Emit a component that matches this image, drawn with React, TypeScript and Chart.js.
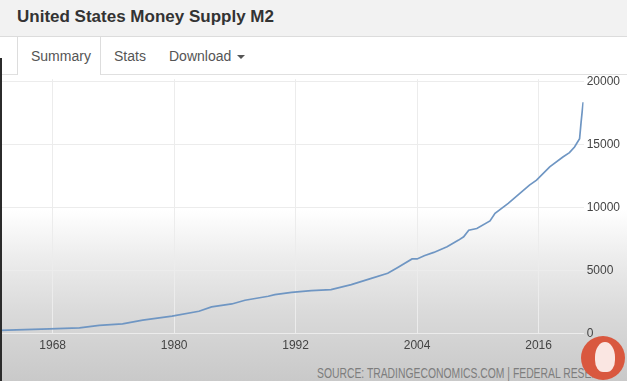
import React, { useEffect, useRef } from "react";
import { Chart, registerables } from "chart.js";

Chart.register(...registerables);

const TITLE = "United States Money Supply M2";
const TABS = ["Summary", "Stats", "Download"];
const SOURCE = "SOURCE: TRADINGECONOMICS.COM | FEDERAL RESERVE";

const years = [
  1962.8, 1967.7, 1970.65, 1972.6, 1974.9, 1976.9, 1979.8, 1982.45, 1983.7, 1985.7,
  1987.0, 1989.3, 1989.95, 1991.6, 1993.55, 1995.5, 1997.5, 1999.4, 2001.1, 2002.05,
  2003.5, 2004.0, 2004.7, 2005.65, 2006.96, 2008.1, 2008.6, 2009.1, 2009.9, 2011.2,
  2011.7, 2013.0, 2014.15, 2015.1, 2015.8, 2017.1, 2018.4, 2019.05, 2019.55, 2020.05,
  2020.2, 2020.4,
];
const m2 = [
  252, 379, 457, 646, 773, 1065, 1380, 1774, 2113, 2350,
  2642, 2957, 3091, 3273, 3407, 3486, 3880, 4353, 4778, 5225,
  5914, 5914, 6174, 6434, 6884, 7409, 7670, 8196, 8328, 8927,
  9527, 10315, 11104, 11766, 12160, 13209, 13998, 14337, 14786, 15441,
  16758, 18335,
];
const xTicks = [1968, 1980, 1992, 2004, 2016];
const yTicks = [0, 5000, 10000, 15000, 20000];

export default function App() {
  const ref = useRef<HTMLCanvasElement | null>(null);

  useEffect(() => {
    if (!ref.current) return;
    const chart = new Chart(ref.current, {
      type: "line",
      data: {
        datasets: [
          {
            data: years.map((y, i) => ({ x: y, y: m2[i] })),
            borderColor: "#6f96c3",
            borderWidth: 1.7,
            pointRadius: 0,
            tension: 0,
            fill: false,
          },
        ],
      },
      options: {
        animation: false,
        responsive: false,
        events: [],
        layout: { padding: { left: 0, right: 4, top: 8, bottom: 0 } },
        plugins: { legend: { display: false }, tooltip: { enabled: false } },
        scales: {
          x: {
            type: "linear",
            min: 1962.8,
            max: 2020.45,
            afterBuildTicks: (s: any) => {
              s.ticks = xTicks.map((v) => ({ value: v }));
            },
            grid: { color: "#ececec", drawTicks: false },
            border: { display: false },
            ticks: {
              padding: 5,
              color: "#444",
              font: { family: "'Liberation Sans', Arial, sans-serif", size: 12 },
              maxRotation: 0,
              callback: (v: any) => String(v),
            },
          },
          y: {
            position: "right",
            min: 0,
            max: 20160,
            afterBuildTicks: (s: any) => {
              s.ticks = yTicks.map((v) => ({ value: v }));
            },
            grid: { color: "#ececec", drawTicks: false },
            border: { display: false },
            ticks: {
              padding: 3,
              color: "#444",
              font: { family: "'Liberation Sans', Arial, sans-serif", size: 12 },
              callback: (v: any) => String(v),
            },
          },
        },
      },
    });
    return () => chart.destroy();
  }, []);

  return (
    <div
      style={{
        position: "fixed",
        left: 0,
        top: 0,
        width: 627,
        height: 381,
        overflow: "hidden",
        fontFamily: "'Liberation Sans', Arial, sans-serif",
        background:
          "linear-gradient(to bottom, #ffffff 0%, #ffffff 55%, #ececec 68%, #dadada 82%, #c9c9c9 100%)",
      }}
    >
      <canvas
        ref={ref}
        width={627}
        height={289}
        style={{ position: "absolute", left: 0, top: 69, zIndex: 1 }}
      />
      {/* title bar */}
      <div
        style={{
          position: "absolute",
          left: 0,
          top: 0,
          width: 627,
          height: 36,
          background: "#f2f2f2",
          borderBottom: "1px solid #dcdcdc",
          zIndex: 3,
        }}
      >
        <div
          style={{
            position: "absolute",
            left: 17,
            top: 0,
            lineHeight: "34px",
            fontSize: 17,
            fontWeight: "bold",
            color: "#333",
          }}
        >
          {TITLE}
        </div>
      </div>
      {/* tab row */}
      <div
        style={{
          position: "absolute",
          left: 0,
          top: 37,
          width: 627,
          height: 37,
          background: "#fff",
          borderBottom: "1px solid #e0e0e0",
          zIndex: 3,
        }}
      >
        <div
          style={{
            position: "absolute",
            left: 17,
            top: 0,
            width: 82,
            height: 38,
            background: "#fff",
            borderLeft: "1px solid #dddddd",
            borderRight: "1px solid #dddddd",
          }}
        />
        <div style={{ position: "absolute", left: 31, top: 11, fontSize: 14, color: "#555" }}>
          {TABS[0]}
        </div>
        <div style={{ position: "absolute", left: 114, top: 11, fontSize: 14, color: "#555" }}>
          {TABS[1]}
        </div>
        <div style={{ position: "absolute", left: 169, top: 11, fontSize: 14, color: "#555" }}>
          {TABS[2]}
          <span
            style={{
              display: "inline-block",
              marginLeft: 6,
              width: 0,
              height: 0,
              verticalAlign: "middle",
              borderLeft: "4px solid transparent",
              borderRight: "4px solid transparent",
              borderTop: "4px solid #555",
            }}
          />
        </div>
      </div>
      {/* left dark edge */}
      <div
        style={{
          position: "absolute",
          left: 0,
          top: 58,
          width: 2,
          height: 323,
          background: "#2b2b2b",
          zIndex: 4,
        }}
      />
      {/* source */}
      <div
        style={{
          position: "absolute",
          left: 317,
          top: 365,
          fontSize: 14,
          color: "#7d7d7d",
          whiteSpace: "nowrap",
          transform: "scaleX(0.74)",
          transformOrigin: "left top",
          zIndex: 2,
        }}
      >
        {SOURCE}
      </div>
      {/* watermark circle */}
      <div
        style={{
          position: "absolute",
          left: 581,
          top: 336,
          width: 44,
          height: 44,
          borderRadius: "50%",
          background: "#d9583f",
          zIndex: 5,
        }}
      >
        <div
          style={{
            position: "absolute",
            left: 14,
            top: 6,
            width: 20,
            height: 30,
            borderRadius: "50% 50% 40% 40%",
            background: "rgba(255,255,255,0.85)",
          }}
        />
      </div>
    </div>
  );
}
